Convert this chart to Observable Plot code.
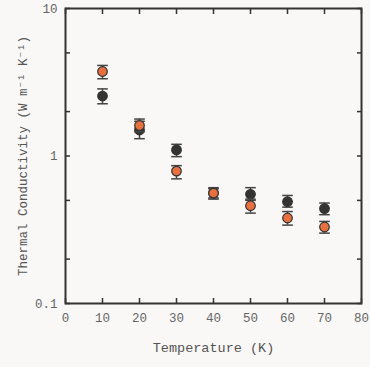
<!DOCTYPE html>
<html>
<head>
<meta charset="utf-8">
<script src="https://cdn.jsdelivr.net/npm/d3@7"></script>
<script src="https://cdn.jsdelivr.net/npm/@observablehq/plot@0.6"></script>
<style>
  html, body { margin: 0; padding: 0; background: #f9f8f6; }
</style>
</head>
<body>
<div id="chart"></div>
<script>
// Temperature (K)
const temps = [10, 20, 30, 40, 50, 60, 70];
// Series A (dark)
const darkVal  = [2.55, 1.50, 1.10, 0.56, 0.55, 0.49, 0.44];
const darkLow  = [2.26, 1.31, 0.99, 0.51, 0.50, 0.45, 0.40];
const darkHigh = [2.85, 1.72, 1.20, 0.61, 0.61, 0.54, 0.48];
// Series B (orange)
const orangeVal  = [3.74, 1.61, 0.79, 0.56, 0.46, 0.38, 0.33];
const orangeLow  = [3.34, 1.46, 0.70, 0.52, 0.41, 0.34, 0.30];
const orangeHigh = [4.11, 1.78, 0.86, 0.60, 0.51, 0.42, 0.36];
// Axis ticks
const xTicks = [0, 10, 20, 30, 40, 50, 60, 70, 80];
const yTickLabels = [0.1, 1, 10];
const yTicks = [0.1, 0.2, 0.5, 1, 2, 5, 10];

const dark = temps.map((t, i) => ({t, v: darkVal[i], lo: darkLow[i], hi: darkHigh[i]}));
const orange = temps.map((t, i) => ({t, v: orangeVal[i], lo: orangeLow[i], hi: orangeHigh[i]}));

const cap = {draw(ctx, size) { const w = Math.sqrt(size); ctx.moveTo(-w, 0); ctx.lineTo(w, 0); }};
const capSize = 25;

const font = "'Liberation Mono', 'DejaVu Sans Mono', monospace";
const textColor = "#666";

function series(data, fill) {
  return [
    Plot.ruleX(data, {x: "t", y1: "lo", y2: "hi", stroke: "#444", strokeWidth: 1.5}),
    Plot.dot(data, {x: "t", y: "lo", symbol: cap, size: capSize, fill: "none", stroke: "#444", strokeWidth: 1.5}),
    Plot.dot(data, {x: "t", y: "hi", symbol: cap, size: capSize, fill: "none", stroke: "#444", strokeWidth: 1.5}),
    Plot.dot(data, {x: "t", y: "v", r: 4.8, fill, stroke: "#333", strokeWidth: 1.2})
  ];
}

const chart = Plot.plot({
  width: 370,
  height: 367,
  marginLeft: 65,
  marginRight: 9,
  marginTop: 8,
  marginBottom: 64,
  style: {background: "#f9f8f6", fontFamily: font, color: textColor},
  x: {domain: [0, 80]},
  y: {type: "log", domain: [0.1, 10]},
  marks: [
    // tick labels
    Plot.axisX(xTicks, {anchor: "bottom", tickSize: 0, tickPadding: 10, fontSize: 12.5, fill: textColor, label: null}),
    Plot.axisY(yTickLabels, {anchor: "left", tickSize: 0, tickPadding: 8, fontSize: 12.5, fill: textColor, label: null, tickFormat: d => String(d)}),
    // inward ticks
    Plot.axisX(xTicks, {anchor: "bottom", tickSize: -5, tickFormat: () => "", stroke: "#333", strokeWidth: 1.5, label: null}),
    Plot.axisX(xTicks, {anchor: "top", tickSize: -5, tickFormat: () => "", stroke: "#333", strokeWidth: 1.5, label: null}),
    Plot.axisY(yTicks, {anchor: "left", tickSize: -5, tickFormat: () => "", stroke: "#333", strokeWidth: 1.5, label: null}),
    Plot.axisY(yTicks, {anchor: "right", tickSize: -5, tickFormat: () => "", stroke: "#333", strokeWidth: 1.5, label: null}),
    Plot.frame({stroke: "#333", strokeWidth: 2}),
    ...series(dark, "#333333"),
    ...series(orange, "#e8703f"),
    Plot.text(["Temperature (K)"], {frameAnchor: "bottom", dy: 48, fontSize: 13.5, fill: "#555", textAnchor: "middle"}),
    Plot.text(["Thermal Conductivity (W m\u207B\u00B9 K\u207B\u00B9)"], {frameAnchor: "left", dx: -43, rotate: -90, fontSize: 12.5, fill: "#555", textAnchor: "middle"})
  ]
});
document.getElementById("chart").appendChild(chart);
</script>
</body>
</html>
